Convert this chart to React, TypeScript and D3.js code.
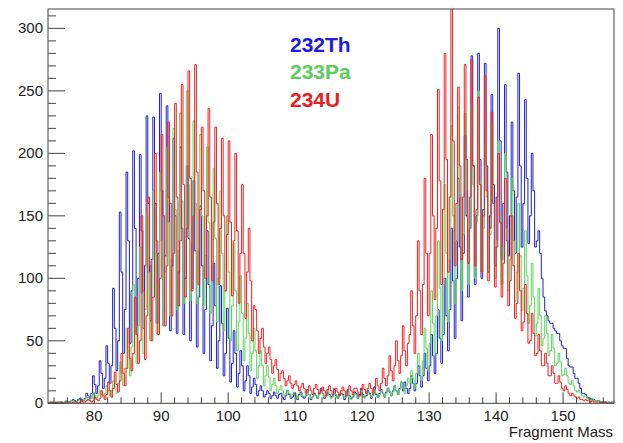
import React, { useEffect, useRef } from 'react';
import * as d3 from 'd3';

// first bin edge and bin width (mass units)
const binStart = 73;
const binWidth = 0.25;

// bin contents, four bins per mass unit, starting at 73.0 (one mass unit per group of 4)
const th232 = [
  0, 1, 0, 1, 0, 0, 1, 1,
  1, 0, 1, 2, 1, 1, 2, 3,
  2, 1, 3, 4, 3, 2, 4, 8,
  6, 4, 8, 22, 15, 8, 14, 34,
  24, 12, 20, 46, 32, 16, 30, 92,
  60, 26, 50, 153, 105, 40, 75, 185,
  130, 48, 90, 202, 140, 55, 100, 199,
  138, 60, 110, 230, 160, 66, 115, 229,
  160, 64, 120, 248, 170, 62, 118, 238,
  165, 58, 110, 212, 150, 56, 105, 205,
  140, 55, 100, 190, 132, 50, 92, 178,
  122, 45, 85, 158, 110, 40, 75, 138,
  95, 34, 62, 112, 78, 28, 50, 94,
  64, 22, 40, 76, 52, 17, 32, 58,
  40, 13, 24, 42, 30, 10, 18, 30,
  22, 8, 13, 20, 15, 6, 10, 14,
  10, 5, 7, 10, 8, 4, 6, 9,
  6, 4, 7, 8, 5, 3, 6, 10,
  7, 4, 5, 8, 6, 3, 7, 9,
  5, 4, 6, 11, 7, 3, 5, 8,
  6, 4, 8, 12, 8, 4, 6, 9,
  7, 5, 6, 11, 6, 4, 7, 8,
  7, 3, 6, 10, 6, 4, 5, 9,
  8, 4, 7, 12, 7, 5, 6, 10,
  8, 4, 7, 13, 7, 5, 8, 11,
  8, 5, 9, 12, 9, 6, 10, 14,
  10, 7, 12, 17, 10, 17, 12, 8,
  12, 22, 16, 10, 16, 30, 22, 13,
  22, 40, 28, 18, 30, 55, 38, 24,
  40, 75, 52, 32, 55, 100, 70, 42,
  75, 140, 98, 52, 100, 180, 125, 66,
  120, 214, 150, 85, 140, 278, 190, 95,
  150, 280, 195, 100, 155, 272, 190, 105,
  150, 247, 175, 110, 165, 300, 210, 115,
  160, 255, 185, 118, 150, 225, 170, 120,
  165, 264, 190, 125, 160, 243, 180, 128,
  150, 200, 170, 125, 130, 138, 120, 100,
  85, 74, 70, 66, 64, 64, 60, 58,
  56, 56, 50, 46, 44, 44, 36, 30,
  29, 29, 24, 20, 20, 16, 12, 8,
  8, 7, 5, 4, 4, 3, 3, 2,
  2, 2, 1, 1, 1, 1, 0, 1,
  0, 1, 0, 0,
];

const pa233 = [
  0, 1, 0, 1, 1, 0, 1, 1,
  0, 1, 1, 2, 1, 1, 2, 2,
  1, 1, 2, 3, 2, 2, 3, 5,
  3, 2, 4, 8, 6, 4, 6, 10,
  7, 5, 8, 14, 10, 6, 10, 18,
  13, 8, 16, 33, 24, 14, 28, 60,
  42, 22, 45, 95, 66, 32, 62, 125,
  88, 40, 75, 150, 105, 50, 85, 170,
  120, 56, 95, 185, 130, 62, 105, 205,
  145, 70, 115, 220, 155, 75, 122, 232,
  162, 80, 130, 250, 175, 82, 128, 226,
  160, 80, 122, 215, 150, 78, 118, 205,
  145, 72, 110, 188, 132, 65, 100, 170,
  120, 58, 90, 150, 105, 50, 78, 128,
  90, 42, 65, 102, 72, 34, 52, 80,
  56, 26, 40, 60, 42, 20, 30, 42,
  30, 14, 22, 30, 21, 10, 15, 20,
  14, 8, 11, 14, 10, 6, 8, 10,
  8, 5, 7, 9, 7, 4, 6, 8,
  6, 5, 7, 10, 7, 4, 5, 7,
  6, 4, 7, 9, 8, 5, 6, 11,
  6, 4, 5, 8, 7, 4, 6, 10,
  6, 4, 5, 9, 5, 3, 6, 8,
  7, 4, 6, 10, 6, 4, 7, 9,
  7, 5, 6, 11, 8, 5, 7, 10,
  8, 5, 8, 12, 9, 6, 9, 14,
  10, 7, 11, 17, 12, 8, 14, 20,
  16, 26, 20, 12, 24, 40, 30, 18,
  34, 60, 44, 26, 48, 90, 64, 38,
  70, 130, 92, 50, 95, 175, 120, 65,
  115, 222, 150, 80, 130, 237, 165, 90,
  135, 232, 170, 95, 140, 240, 175, 100,
  145, 250, 178, 105, 140, 208, 165, 105,
  135, 225, 160, 100, 130, 210, 150, 95,
  125, 200, 140, 90, 115, 180, 130, 82,
  105, 160, 118, 74, 92, 138, 102, 64,
  78, 112, 85, 54, 64, 92, 70, 46,
  52, 70, 56, 38, 42, 55, 44, 30,
  32, 40, 33, 22, 23, 28, 22, 16,
  15, 18, 14, 10, 9, 10, 8, 6,
  5, 6, 4, 3, 3, 4, 2, 2,
  2, 2, 1, 1, 1, 1, 1, 0,
  0, 1, 0, 0,
];

const u234 = [
  0, 0, 1, 0, 0, 1, 0, 0,
  1, 0, 0, 1, 0, 1, 0, 1,
  1, 1, 0, 1, 2, 1, 1, 2,
  3, 2, 1, 2, 5, 3, 2, 4,
  10, 6, 3, 7, 17, 10, 5, 12,
  25, 15, 9, 18, 40, 24, 14, 28,
  60, 36, 26, 40, 85, 55, 32, 50,
  150, 90, 35, 70, 165, 110, 50, 85,
  200, 130, 55, 100, 215, 150, 62, 110,
  225, 160, 70, 120, 240, 165, 78, 130,
  255, 175, 85, 140, 266, 180, 90, 150,
  271, 185, 95, 155, 221, 170, 100, 150,
  236, 165, 98, 145, 221, 160, 95, 140,
  212, 150, 90, 135, 210, 145, 86, 130,
  200, 138, 80, 120, 175, 120, 68, 105,
  140, 98, 50, 78, 75, 58, 40, 52,
  60, 45, 32, 40, 45, 35, 24, 30,
  35, 27, 18, 24, 26, 20, 14, 18,
  22, 16, 12, 15, 18, 14, 10, 13,
  16, 12, 8, 11, 14, 10, 7, 12,
  15, 11, 8, 10, 13, 10, 6, 11,
  14, 10, 7, 12, 12, 9, 6, 10,
  13, 10, 6, 11, 14, 10, 7, 12,
  12, 9, 6, 11, 15, 11, 8, 12,
  16, 12, 8, 13, 20, 14, 10, 16,
  28, 20, 14, 22, 38, 26, 18, 30,
  50, 34, 24, 38, 62, 42, 30, 48,
  55, 90, 62, 40, 70, 130, 90, 55,
  95, 180, 120, 70, 120, 215, 150, 83,
  140, 251, 178, 95, 155, 280, 195, 105,
  165, 320, 210, 110, 160, 253, 190, 115,
  165, 271, 195, 112, 165, 275, 190, 110,
  155, 245, 175, 105, 150, 262, 170, 98,
  140, 233, 160, 93, 125, 200, 145, 85,
  112, 180, 130, 78, 98, 150, 110, 68,
  80, 120, 90, 58, 65, 95, 72, 48,
  50, 72, 56, 38, 40, 55, 42, 30,
  30, 40, 32, 22, 22, 30, 24, 16,
  16, 22, 17, 12, 10, 14, 11, 8,
  6, 8, 6, 5, 4, 5, 3, 3,
  2, 3, 2, 2, 1, 2, 1, 1,
  1, 1, 0, 1, 0, 1, 0, 0,
  0, 0, 1, 0,
];

const seriesNames = ['232Th', '233Pa', '234U'];
const seriesData = [th232, pa233, u234];
const lineColors = ['#2020c8', '#5cd65c', '#f02020'];
const textColors = ['#1c1ce0', '#5ccc5c', '#e82020'];

const xTicks = [80, 90, 100, 110, 120, 130, 140, 150];
const yTicks = [0, 50, 100, 150, 200, 250, 300];

const W = 623;
const H = 443;

export default function App() {
  const ref = useRef<SVGSVGElement>(null);

  useEffect(() => {
    const svg = d3.select(ref.current);
    svg.selectAll('*').remove();

    const left = 48, right = 614, top = 9, bottom = 403.3;
    const x = d3.scaleLinear().domain([73.1, 157.6]).range([left, right]);
    const y = d3.scaleLinear().domain([0, 315.5]).range([bottom, top]);

    svg.append('rect').attr('width', W).attr('height', H).attr('fill', '#fff');

    svg.append('clipPath').attr('id', 'frame-clip')
      .append('rect')
      .attr('x', left).attr('y', top)
      .attr('width', right - left).attr('height', bottom - top);

    const line = d3.line<[number, number]>()
      .x(d => x(d[0]))
      .y(d => y(d[1]))
      .curve(d3.curveStepAfter);

    const g = svg.append('g').attr('clip-path', 'url(#frame-clip)');
    seriesData.forEach((vals, k) => {
      const pts: [number, number][] = vals.map((v, i) => [binStart + i * binWidth, v]);
      pts.push([binStart + vals.length * binWidth, vals[vals.length - 1]]);
      g.append('path')
        .attr('d', line(pts))
        .attr('fill', 'none')
        .attr('stroke', lineColors[k])
        .attr('stroke-width', 1);
    });

    // frame
    svg.append('rect')
      .attr('x', left).attr('y', top)
      .attr('width', right - left).attr('height', bottom - top)
      .attr('fill', 'none').attr('stroke', '#444').attr('stroke-width', 1);

    const font = '"Liberation Sans", Arial, sans-serif';

    // x ticks: major every 10, minor every 2
    for (let m = 74; m <= 157; m += 2) {
      const major = m % 10 === 0;
      svg.append('line')
        .attr('x1', x(m)).attr('x2', x(m))
        .attr('y1', bottom).attr('y2', bottom - (major ? 11 : 6))
        .attr('stroke', '#444');
    }
    svg.append('g').selectAll('text').data(xTicks).enter().append('text')
      .attr('x', d => x(d)).attr('y', 421)
      .attr('text-anchor', 'middle')
      .attr('font-family', font).attr('font-size', 15).attr('fill', '#222')
      .text(d => d);

    // y ticks: major every 50, minor every 10
    for (let v = 0; v <= 315; v += 10) {
      const major = v % 50 === 0;
      svg.append('line')
        .attr('x1', left).attr('x2', left + (major ? 17 : 8))
        .attr('y1', y(v)).attr('y2', y(v))
        .attr('stroke', '#444');
    }
    svg.append('g').selectAll('text').data(yTicks).enter().append('text')
      .attr('x', 43).attr('y', d => y(d) + 5)
      .attr('text-anchor', 'end')
      .attr('font-family', font).attr('font-size', 15).attr('fill', '#222')
      .text(d => d);

    svg.append('text')
      .attr('x', 613).attr('y', 437)
      .attr('text-anchor', 'end')
      .attr('font-family', font).attr('font-size', 15).attr('fill', '#222')
      .text('Fragment Mass');

    // legend texts
    const legendY = [52, 79, 107];
    seriesNames.forEach((name, k) => {
      svg.append('text')
        .attr('x', 290).attr('y', legendY[k])
        .attr('font-family', font).attr('font-size', 21).attr('font-weight', 'bold')
        .attr('fill', textColors[k])
        .text(name);
    });
  }, []);

  return (
    <svg ref={ref} width={W} height={H}
      style={{ position: 'absolute', left: 0, top: 0, display: 'block' }} />
  );
}
